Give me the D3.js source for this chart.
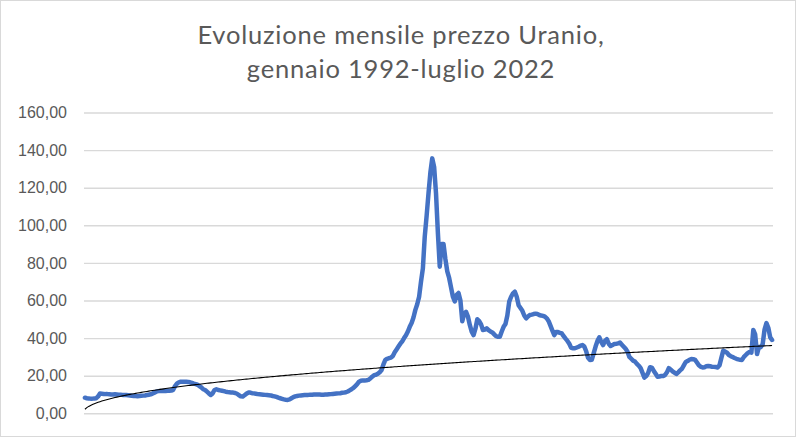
<!DOCTYPE html>
<html lang="it">
<head>
<meta charset="UTF-8">
<title>Evoluzione mensile prezzo Uranio</title>
<script src="https://d3js.org/d3.v7.min.js"></script>
<style>
  body { margin: 0; background: #fff; }
  svg { display: block; font-family: Lato, "Open Sans", sans-serif; }
  .grid .tick line { stroke: #d9d9d9; stroke-width: 1.4; }
  .grid .tick text { font-size: 16px; fill: #595959; }
  .title { font-size: 25.5px; letter-spacing: 0.8px; fill: #595959; }
  .serie { fill: none; stroke: #4472c4; stroke-width: 4.5; stroke-linejoin: round; stroke-linecap: round; }
  .trend { fill: none; stroke: #000; stroke-width: 1.1; }
</style>
</head>
<body>
<svg width="797" height="438"></svg>
<script>
const titleLines = ["Evoluzione mensile prezzo Uranio,", "gennaio 1992-luglio 2022"];
const yTicks = [0, 20, 40, 60, 80, 100, 120, 140, 160];
const firstMonth = new Date(1992, 0, 1);
const lastMonth = new Date(2022, 6, 1);

// prezzo mensile (USD/lb)
const prices = [
  8.3, 8.0, 7.9, 7.8, 7.8, 7.9, 8.0, 9.0, 10.5, 10.4, 10.3, 10.2,          // 1992
  10.2, 10.1, 10.0, 10.0, 10.1, 10.0, 9.9, 9.9, 9.8, 9.8, 9.7, 9.6,        // 1993
  9.5, 9.3, 9.2, 9.2, 9.1, 9.2, 9.3, 9.4, 9.5, 9.7, 9.9, 10.1,             // 1994
  10.5, 11.0, 11.5, 11.8, 11.9, 11.8, 11.9, 11.9, 12.0, 12.0, 12.1, 12.5,  // 1995
  14.5, 15.8, 16.5, 16.8, 16.8, 16.8, 16.8, 16.7, 16.5, 16.2, 15.8, 15.5,  // 1996
  15.2, 14.5, 13.8, 12.8, 12.4, 11.5, 10.6, 9.8, 10.6, 12.4, 12.8, 12.4,   // 1997
  12.2, 12.0, 11.8, 11.5, 11.3, 11.2, 11.0, 11.0, 10.8, 10.4, 9.7, 9.0,    // 1998
  8.9, 9.6, 10.4, 11.0, 11.0, 10.7, 10.6, 10.4, 10.2, 10.1, 10.0, 9.9,     // 1999
  9.8, 9.7, 9.6, 9.5, 9.2, 9.0, 8.7, 8.3, 8.0, 7.7, 7.4, 7.2,              // 2000
  7.1, 7.4, 8.0, 8.6, 9.0, 9.2, 9.4, 9.5, 9.6, 9.7, 9.8, 9.8,              // 2001
  9.9, 9.9, 10.0, 10.0, 10.0, 10.0, 9.9, 9.9, 10.0, 10.0, 10.1, 10.2,      // 2002
  10.3, 10.4, 10.5, 10.6, 10.7, 10.9, 11.0, 11.2, 11.6, 12.2, 12.8, 13.5,  // 2003
  14.5, 15.5, 16.8, 17.3, 17.5, 17.5, 17.6, 17.8, 18.5, 19.5, 20.3, 20.5,  // 2004
  21.0, 21.8, 23.0, 26.0, 28.4, 29.0, 29.3, 29.6, 30.5, 32.5, 34.0, 35.5,  // 2005
  37.0, 38.3, 40.0, 41.5, 43.5, 46.0, 48.0, 51.0, 55.0, 58.0, 62.0, 70.0,  // 2006
  77.0, 94.0, 105.0, 117.0, 128.0, 135.6, 131.0, 117.0, 96.0, 78.0, 90.0, 90.0, // 2007
  82.0, 75.5, 72.0, 67.0, 62.0, 59.5, 63.0, 64.0, 60.0, 49.0, 53.0, 54.0,  // 2008
  51.5, 47.0, 43.4, 41.6, 45.0, 50.0, 49.0, 47.3, 44.3, 44.5, 45.2, 44.2,  // 2009
  43.5, 43.0, 42.0, 41.0, 40.7, 40.7, 43.5, 46.0, 47.5, 52.0, 59.4, 62.0,  // 2010
  63.8, 64.7, 62.0, 57.5, 56.0, 54.5, 52.0, 50.5, 51.5, 52.3, 52.5, 52.8,  // 2011
  53.0, 52.8, 52.3, 52.0, 51.8, 51.4, 50.5, 49.0, 46.5, 44.0, 41.6, 43.2,  // 2012
  43.2, 42.8, 42.5, 41.0, 39.7, 38.5, 37.0, 34.8, 34.6, 34.6, 35.0, 35.4,  // 2013
  36.0, 36.3, 35.5, 33.0, 29.5, 28.4, 28.5, 32.0, 35.5, 38.5, 40.4, 38.0,  // 2014
  36.3, 38.5, 39.4, 37.0, 35.8, 36.3, 36.9, 37.0, 37.2, 37.6, 36.5, 35.4,  // 2015
  34.3, 32.8, 30.0, 29.0, 28.0, 27.5, 26.3, 25.3, 24.0, 21.5, 19.0, 19.8,  // 2016
  21.5, 24.5, 24.3, 22.5, 21.0, 19.5, 19.6, 19.8, 19.8, 20.4, 21.8, 24.0,  // 2017
  23.3, 22.3, 21.6, 20.9, 21.8, 22.8, 23.7, 25.5, 27.3, 27.8, 28.5, 28.9,  // 2018
  28.8, 28.4, 27.0, 25.5, 24.7, 24.4, 24.5, 25.0, 25.2, 25.0, 24.8, 24.7,  // 2019
  24.6, 24.4, 25.5, 29.5, 33.3, 32.8, 32.2, 31.0, 30.4, 29.9, 29.4, 29.0,  // 2020
  28.7, 28.5, 28.4, 30.0, 31.0, 32.0, 32.6, 32.3, 44.3, 42.0, 31.5, 35.3,  // 2021
  35.2, 36.8, 44.5, 48.0, 45.5, 40.5, 39.0                                 // 2022
];

const months = d3.timeMonth.range(firstMonth, d3.timeMonth.offset(lastMonth, 1));

const width = 797;
const height = 438;
const plot = { left: 84, right: 773, top: 112.5, bottom: 413.3 };

const svg = d3.select("svg");

// bordo area grafico
svg.append("rect")
  .attr("x", 0.5).attr("y", 0.5)
  .attr("width", width - 2).attr("height", height - 2)
  .attr("fill", "#fff").attr("stroke", "#d9d9d9");

svg.selectAll("text.title")
  .data(titleLines)
  .join("text")
  .attr("class", "title")
  .attr("x", 401)
  .attr("y", (d, i) => 44 + i * 34)
  .attr("text-anchor", "middle")
  .text(d => d);

const x = d3.scalePoint()
  .domain(months.map((d, i) => i))
  .range([plot.left, plot.right])
  .padding(0.5);

const y = d3.scaleLinear()
  .domain([0, 160])
  .range([plot.bottom, plot.top]);

const it = d3.formatLocale({ decimal: ",", thousands: ".", grouping: [3], currency: ["€", ""] });

const grid = svg.append("g")
  .attr("class", "grid")
  .attr("transform", `translate(${plot.left},0)`)
  .call(d3.axisLeft(y)
    .tickValues(yTicks)
    .tickSize(-(plot.right - plot.left))
    .tickPadding(17)
    .tickFormat(it.format(".2f")));
grid.select(".domain").remove();

const line = d3.line()
  .x((d, i) => x(i))
  .y(d => y(d));

svg.append("path")
  .datum(prices)
  .attr("class", "serie")
  .attr("d", line);

// linea di tendenza (potenza), come in Excel: ln y = ln a + b ln x
const lx = prices.map((d, i) => Math.log(i + 1));
const ly = prices.map(d => Math.log(d));
const n = prices.length;
const sx = d3.sum(lx), sy = d3.sum(ly);
const sxy = d3.sum(lx, (d, i) => d * ly[i]);
const sxx = d3.sum(lx, d => d * d);
const b = (n * sxy - sx * sy) / (n * sxx - sx * sx);
const a = Math.exp((sy - b * sx) / n);
const trend = prices.map((d, i) => a * Math.pow(i + 1, b));

svg.append("path")
  .datum(trend)
  .attr("class", "trend")
  .attr("d", line);
</script>
</body>
</html>
